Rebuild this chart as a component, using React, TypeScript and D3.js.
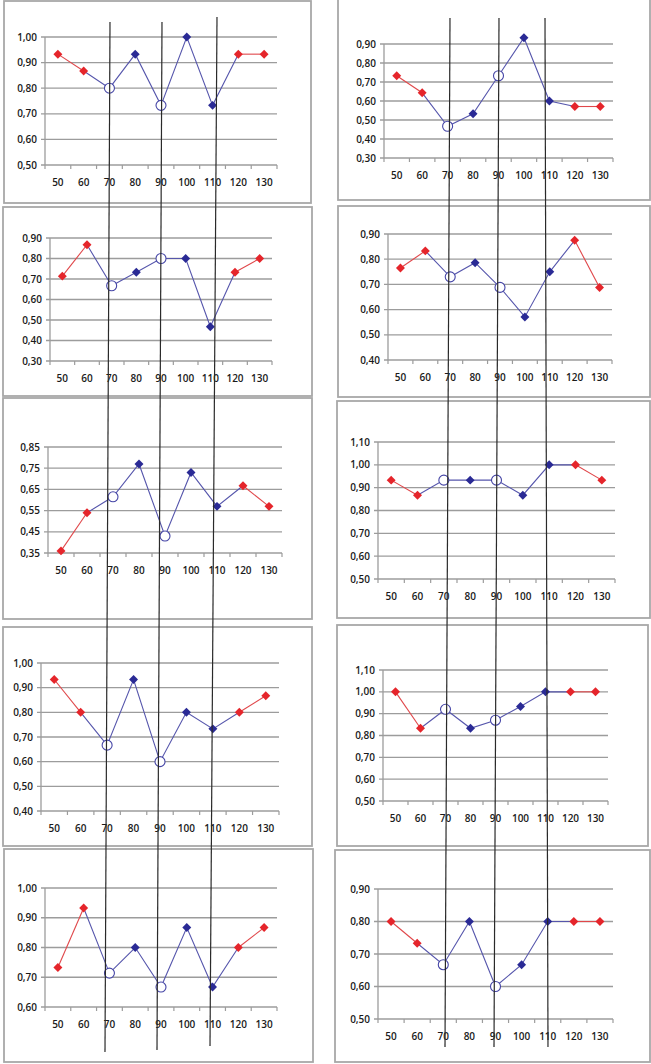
import React from 'react';
import * as d3 from 'd3';

const categories = [50, 60, 70, 80, 90, 100, 110, 120, 130];
const pointKinds = ['red', 'red', 'open', 'blue', 'open', 'blue', 'blue', 'red', 'red'];

// left column, top to bottom
const leftPanel1 = [0.933, 0.867, 0.8, 0.933, 0.733, 1.0, 0.733, 0.933, 0.933];
const leftPanel2 = [0.714, 0.867, 0.667, 0.733, 0.8, 0.8, 0.467, 0.733, 0.8];
const leftPanel3 = [0.36, 0.54, 0.615, 0.77, 0.43, 0.73, 0.57, 0.667, 0.57];
const leftPanel4 = [0.933, 0.8, 0.667, 0.933, 0.6, 0.8, 0.733, 0.8, 0.867];
const leftPanel5 = [0.733, 0.933, 0.714, 0.8, 0.667, 0.867, 0.667, 0.8, 0.867];
// right column, top to bottom
const rightPanel1 = [0.733, 0.643, 0.467, 0.533, 0.733, 0.933, 0.6, 0.571, 0.571];
const rightPanel2 = [0.765, 0.833, 0.73, 0.786, 0.688, 0.571, 0.75, 0.875, 0.688];
const rightPanel3 = [0.933, 0.867, 0.933, 0.933, 0.933, 0.867, 1.0, 1.0, 0.933];
const rightPanel4 = [1.0, 0.833, 0.92, 0.833, 0.87, 0.933, 1.0, 1.0, 1.0];
const rightPanel5 = [0.8, 0.733, 0.667, 0.8, 0.6, 0.667, 0.8, 0.8, 0.8];

const leftDomains = [[0.5, 1.0], [0.3, 0.9], [0.35, 0.85], [0.4, 1.0], [0.6, 1.0]];
const rightDomains = [[0.3, 0.9], [0.4, 0.9], [0.5, 1.1], [0.5, 1.1], [0.5, 0.9]];
const tickStep = 0.1;

// layout (pixels)
const leftLayouts = [
  { box: [4, 1, 311, 203], plot: [45, 37, 277, 165] },
  { box: [3, 207, 312, 396], plot: [50, 238, 272, 361] },
  { box: [3, 398, 312, 619], plot: [48, 447, 282, 553] },
  { box: [3, 627, 312, 846], plot: [41, 663, 279, 811] },
  { box: [4, 849, 313, 1062], plot: [45, 888, 277, 1007] },
];
const rightLayouts = [
  { box: [338, -1, 650, 200], plot: [384, 44, 613, 158] },
  { box: [338, 206, 650, 397], plot: [388, 234, 612, 360] },
  { box: [337, 401, 650, 618], plot: [378, 442, 615, 579] },
  { box: [337, 625, 648, 846], plot: [383, 670, 608, 801] },
  { box: [335, 850, 650, 1062], plot: [378, 889, 613, 1019] },
];
const guideLines = [
  [110, 22, 105, 1052],
  [162, 22, 157, 1050],
  [217, 17, 210, 1046],
  [450, 18, 445, 1047],
  [499, 18, 494, 1047],
  [545, 18, 548, 1047],
];

const RED = '#e5252b';
const RED_LINE = '#e0474a';
const NAVY = '#2a2a95';
const BLUE_LINE = '#5656ac';
const GRID = '#9c9c9c';
const FONT = "'Open Sans', sans-serif";

const fmt = (v: number) => d3.format('.2f')(v).replace('.', ',');
const diamond = d3.symbol(d3.symbolSquare, 40)();

function Panel({ values, domain, layout }: any) {
  const [l, t, r, b] = layout.plot;
  const [bx0, by0, bx1, by1] = layout.box;
  const x = d3.scaleBand<string>().domain(categories.map(String)).range([l, r]).padding(0);
  const y = d3.scaleLinear().domain(domain).range([b, t]);
  const n = Math.round((domain[1] - domain[0]) / tickStep);
  const ticks = d3.range(n + 1).map((i) => domain[0] + i * tickStep);
  const cx = (i: number) => (x(String(categories[i])) as number) + x.bandwidth() / 2;
  const pts: [number, number][] = values.map((v: number, i: number) => [cx(i), y(v)]);
  const line = d3.line();
  const boundaries = d3.range(categories.length + 1).map((i) => l + i * x.bandwidth());
  return (
    <g>
      <rect x={bx0} y={by0} width={bx1 - bx0} height={by1 - by0} fill="white" stroke="#a8a8a8" strokeWidth={1.8} />
      {ticks.map((tk, i) => (
        <g key={i}>
          <line x1={l - 4} x2={r} y1={y(tk)} y2={y(tk)} stroke={GRID} strokeWidth={1.3} />
          <text x={l - 8} y={y(tk) + 3.5} textAnchor="end" fontSize={10} fontWeight={600} fontFamily={FONT} fill="#1a1a1a">{fmt(tk)}</text>
        </g>
      ))}
      <line x1={l} x2={l} y1={t} y2={b} stroke={GRID} strokeWidth={1.3} />
      {boundaries.map((bx, i) => (
        <line key={i} x1={bx} x2={bx} y1={b} y2={b + 4} stroke={GRID} strokeWidth={1.2} />
      ))}
      {categories.map((c, i) => (
        <text key={c} x={cx(i)} y={b + 21} textAnchor="middle" fontSize={10} fontWeight={600} fontFamily={FONT} fill="#1a1a1a">{c}</text>
      ))}
      <path d={line(pts.slice(1, 8)) as string} fill="none" stroke={BLUE_LINE} strokeWidth={1.1} />
      <path d={line(pts.slice(0, 2)) as string} fill="none" stroke={RED_LINE} strokeWidth={1.1} />
      <path d={line(pts.slice(7, 9)) as string} fill="none" stroke={RED_LINE} strokeWidth={1.1} />
      {pts.map(([px, py], i) =>
        pointKinds[i] === 'open' ? (
          <circle key={i} cx={px} cy={py} r={5} fill="white" stroke="#4545a6" strokeWidth={1.1} />
        ) : (
          <path key={i} d={diamond as string} transform={`translate(${px},${py}) rotate(45)`} fill={pointKinds[i] === 'red' ? RED : NAVY} />
        )
      )}
    </g>
  );
}

export default function App() {
  const leftValues = [leftPanel1, leftPanel2, leftPanel3, leftPanel4, leftPanel5];
  const rightValues = [rightPanel1, rightPanel2, rightPanel3, rightPanel4, rightPanel5];
  return (
    <svg width={651} height={1064} style={{ position: 'absolute', left: 0, top: 0, background: 'white' }}>
      <rect x={0} y={0} width={651} height={1064} fill="white" />
      {leftValues.map((v, i) => (
        <Panel key={'l' + i} values={v} domain={leftDomains[i]} layout={leftLayouts[i]} />
      ))}
      {rightValues.map((v, i) => (
        <Panel key={'r' + i} values={v} domain={rightDomains[i]} layout={rightLayouts[i]} />
      ))}
      {guideLines.map(([x1, y1, x2, y2], i) => (
        <line key={i} x1={x1} y1={y1} x2={x2} y2={y2} stroke="#2a2a2a" strokeWidth={1.2} />
      ))}
    </svg>
  );
}
